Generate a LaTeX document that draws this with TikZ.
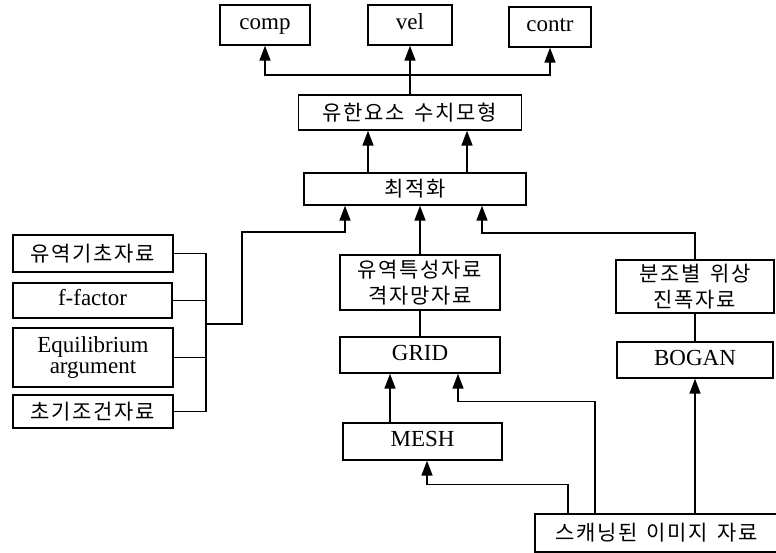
\documentclass[tikz,border=0pt]{standalone}
\usepackage{fontspec}
\setmainfont{Liberation Serif}
\newfontfamily\kr[LetterSpace=8]{Noto Sans CJK KR}
\newcommand{\krsp}{\hspace{0.45em}}
\usetikzlibrary{arrows.meta,calc}
\begin{document}
\begin{tikzpicture}[x=1pt,y=-1pt,
  frame/.style={draw, line width=1.4pt, inner sep=0pt},
  box/.style={frame, align=center, font=\fontsize{23}{21}\selectfont},
  lbox/.style={frame, font=\fontsize{23}{21}\selectfont, text height=15pt, text depth=5pt},
  krbox/.style={box, font=\kr\fontsize{21}{26}\selectfont},
  conn/.style={line width=1.6pt},
  arr/.style={conn, -{Triangle[length=15pt,width=11pt]}}]
\useasboundingbox (0,0) rectangle (776,553);
% top row
\node[lbox, minimum width=90pt, minimum height=40pt] (comp) at (265,25) {comp};
\node[lbox, minimum width=84pt, minimum height=40pt] (vel) at (410,25) {vel};
\node[lbox, minimum width=82pt, minimum height=40pt] (contr) at (550,27) {contr};
\node[krbox, minimum width=223pt, minimum height=35pt] (fem) at (410,112.5) {유한요소\krsp 수치모형};
\node[krbox, minimum width=222pt, minimum height=32pt] (opt) at (415,189) {최적화};
% left group
\node[krbox, minimum width=160pt, minimum height=37pt] (b1) at (93,253.5) {유역기초자료};
\node[lbox, minimum width=159pt, minimum height=35pt] (b2) at (92.5,300.5) {f-factor};
\node[box, minimum width=160pt, minimum height=59pt] (b3) at (93,357.5) {Equilibrium\\argument};
\node[krbox, minimum width=160pt, minimum height=33pt] (b4) at (93,411.5) {초기조건자료};
% middle
\node[krbox, minimum width=160pt, minimum height=55pt] (basin) at (420,282.5) {유역특성자료\\격자망자료};
\node[lbox, minimum width=160pt, minimum height=36pt] (grid) at (420,355) {GRID};
\node[lbox, minimum width=159pt, minimum height=37pt] (mesh) at (422.5,441.5) {MESH};
% right
\node[krbox, minimum width=158pt, minimum height=53pt] (tide) at (695,286.5) {분조별\krsp 위상\\진폭자료};
\node[lbox, minimum width=156pt, minimum height=36pt] (bogan) at (695,360) {BOGAN};
\node[krbox, minimum width=243pt, minimum height=38pt] (scan) at (656.5,533) {스캐닝된\krsp 이미지\krsp 자료};
% top connectors
\draw[conn] (fem.north) -- ++(0,-19) coordinate (t);
\draw[arr] (t) -- (vel.south);
\draw[arr] (t) -| (comp.south);
\draw[arr] (t) -| (contr.south);
\draw[arr] ([xshift=-47pt]opt.north) -- ([xshift=-47pt]opt.north |- fem.south);
\draw[arr] ([xshift=52pt]opt.north) -- ([xshift=52pt]opt.north |- fem.south);
% left bus
\coordinate (bb) at (206,411.5);
\draw[conn] (b1.east) -| (bb) -- (b4.east);
\draw[conn] (b2.east) -- (b2.east -| bb);
\draw[conn] (b3.east) -- (b3.east -| bb);
\coordinate (j) at (206,324);
\draw[arr] (j) -- (242,324) -- (242,232) -| ([xshift=-70pt]opt.south);
% middle
\draw[arr] (basin.north) -- (basin.north |- opt.south);
\draw[conn] (basin.south) -- (grid.north);
\draw[arr] ([xshift=-32.5pt]mesh.north) -- ([xshift=-32.5pt]mesh.north |- grid.south);
\draw[arr] ([xshift=-61.5pt]scan.north) -- ++(0,-112) -| ([xshift=38pt]grid.south);
\draw[arr] ([xshift=-88.5pt]scan.north) -- ++(0,-29) -| ([xshift=4.5pt]mesh.south);
% right
\draw[arr] (tide.north) -- ++(0,-26) -| ([xshift=67pt]opt.south);
\draw[conn] (tide.south) -- (bogan.north);
\draw[arr] (scan.north -| bogan.south) -- (bogan.south);
\end{tikzpicture}
\end{document}
